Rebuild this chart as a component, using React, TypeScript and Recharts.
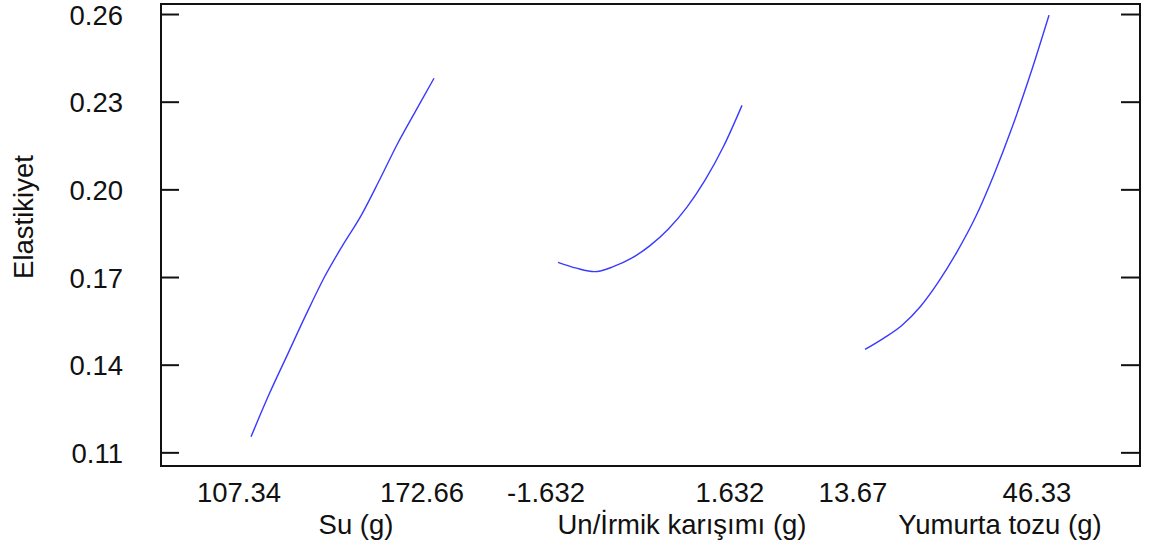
import React from 'react';
import { LineChart, Line, XAxis, YAxis, ReferenceArea } from 'recharts';

// Su (g)
const suX = [107.34, 113.872, 120.404, 126.936, 133.468, 140.0, 146.532, 153.064, 159.596, 166.128, 172.66];
const suY = [0.1155, 0.1302, 0.1437, 0.1572, 0.1700, 0.1809, 0.1910, 0.2031, 0.2157, 0.2270, 0.2382];
// Un/İrmik karışımı (g)
const unX = [-1.632, -1.3056, -0.9792, -0.6528, -0.3264, 0, 0.3264, 0.6528, 0.9792, 1.3056, 1.632];
const unY = [0.1752, 0.1732, 0.1720, 0.1737, 0.1766, 0.1809, 0.1866, 0.1940, 0.2034, 0.2149, 0.2289];
// Yumurta tozu (g)
const yumX = [13.67, 16.936, 20.202, 23.468, 26.734, 30.0, 33.266, 36.532, 39.798, 43.064, 46.33];
const yumY = [0.1454, 0.1492, 0.1536, 0.1600, 0.1686, 0.1788, 0.1906, 0.2051, 0.2215, 0.2398, 0.2598];

const yTicks = [0.11, 0.14, 0.17, 0.2, 0.23, 0.26];
const yTickLabels = ['0.11', '0.14', '0.17', '0.20', '0.23', '0.26'];
const suTicks = [107.34, 172.66];
const suTickLabels = ['107.34', '172.66'];
const unTicks = [-1.632, 1.632];
const unTickLabels = ['-1.632', '1.632'];
const yumTicks = [13.67, 46.33];
const yumTickLabels = ['13.67', '46.33'];

const yLabel = 'Elastikiyet';
const suTitle = 'Su (g)';
const unTitle = 'Un/İrmik karışımı (g)';
const yumTitle = 'Yumurta tozu (g)';

const suData = suX.map((x, i) => ({ x, y: suY[i] }));
const unData = unX.map((x, i) => ({ x, y: unY[i] }));
const yumData = yumX.map((x, i) => ({ x, y: yumY[i] }));

const FONT = '"Liberation Sans", Arial, sans-serif';
const FS = 27.5;
const INK = '#111';
const LINE = '#3a3aff';

const yDomain = [0.1055, 0.2636];
const suDomain = [75.215, 424.66];
const unDomain = [-8.6745, 8.692];
const yumDomain = [-111.29, 62.48];

const makeXTick = (labels: string[], ticks: number[], title: string, titleOffset: number, shift: number) => (props: any) => {
  const { x, y, payload } = props;
  const idx = ticks.indexOf(payload.value);
  const by = y - shift;
  return (
    <g>
      <text x={x - 12} y={by + 36} textAnchor="middle" fontFamily={FONT} fontSize={FS} fill={INK}>
        {labels[idx]}
      </text>
      {idx === 0 ? (
        <text x={x + titleOffset} y={by + 68} textAnchor="middle" fontFamily={FONT} fontSize={FS} fill={INK}>
          {title}
        </text>
      ) : null}
    </g>
  );
};

const LeftTick = (props: any) => {
  const { x, y, payload } = props;
  const idx = yTicks.indexOf(payload.value);
  return (
    <g>
      <line x1={x} x2={x + 18} y1={y} y2={y} stroke={INK} strokeWidth={2} />
      <text x={x - 38} y={y + 10} textAnchor="end" fontFamily={FONT} fontSize={FS} fill={INK}>
        {yTickLabels[idx]}
      </text>
    </g>
  );
};

const RightTick = (props: any) => {
  const { x, y } = props;
  return <line x1={x - 1} x2={x - 19} y1={y} y2={y} stroke={INK} strokeWidth={2} />;
};

const YTitle = (props: any) => {
  const { viewBox } = props;
  const cy = viewBox.y + viewBox.height / 2 - 18;
  return (
    <text
      x={23}
      y={cy}
      transform={`rotate(-90, 23, ${cy})`}
      textAnchor="middle"
      dominantBaseline="central"
      fontFamily={FONT}
      fontSize={FS}
      fill={INK}
    >
      {yLabel}
    </text>
  );
};

export default function App() {
  return (
    <div style={{ position: 'absolute', left: 0, top: 0, background: '#fff' }}>
      <LineChart width={1157} height={551} margin={{ top: 4, right: 16, bottom: 82, left: 0 }}>
        <XAxis
          xAxisId="su"
          type="number"
          dataKey="x"
          domain={suDomain}
          ticks={suTicks}
          height={1}
          axisLine={false}
          tickLine={false}
          tickSize={0}
          tickMargin={0}
          allowDataOverflow
          interval={0}
          tick={makeXTick(suTickLabels, suTicks, suTitle, 105, 0)}
        />
        <XAxis
          xAxisId="un"
          type="number"
          dataKey="x"
          domain={unDomain}
          ticks={unTicks}
          height={1}
          axisLine={false}
          tickLine={false}
          tickSize={0}
          tickMargin={0}
          allowDataOverflow
          interval={0}
          tick={makeXTick(unTickLabels, unTicks, unTitle, 124, 1)}
        />
        <XAxis
          xAxisId="yum"
          type="number"
          dataKey="x"
          domain={yumDomain}
          ticks={yumTicks}
          height={1}
          axisLine={false}
          tickLine={false}
          tickSize={0}
          tickMargin={0}
          allowDataOverflow
          interval={0}
          tick={makeXTick(yumTickLabels, yumTicks, yumTitle, 135, 2)}
        />
        <YAxis
          yAxisId="left"
          type="number"
          domain={yDomain}
          ticks={yTicks}
          width={161}
          allowDataOverflow
          interval={0}
          axisLine={false}
          tickLine={false}
          tickSize={0}
          tickMargin={0}
          tick={LeftTick}
          label={<YTitle />}
        />
        <YAxis
          yAxisId="right"
          orientation="right"
          type="number"
          domain={yDomain}
          ticks={yTicks}
          width={1}
          allowDataOverflow
          interval={0}
          axisLine={false}
          tickLine={false}
          tickSize={0}
          tickMargin={0}
          tick={RightTick}
        />
        <ReferenceArea
          xAxisId="su"
          yAxisId="left"
          x1={suDomain[0]}
          x2={suDomain[1]}
          y1={yDomain[0]}
          y2={yDomain[1]}
          fill="none"
          stroke={INK}
          strokeWidth={2}
          ifOverflow="visible"
        />
        <Line xAxisId="su" yAxisId="left" data={suData} dataKey="y" stroke={LINE} strokeWidth={1.4} dot={false} type="monotone" isAnimationActive={false} />
        <Line xAxisId="un" yAxisId="left" data={unData} dataKey="y" stroke={LINE} strokeWidth={1.4} dot={false} type="monotone" isAnimationActive={false} />
        <Line xAxisId="yum" yAxisId="left" data={yumData} dataKey="y" stroke={LINE} strokeWidth={1.4} dot={false} type="monotone" isAnimationActive={false} />
      </LineChart>
    </div>
  );
}
